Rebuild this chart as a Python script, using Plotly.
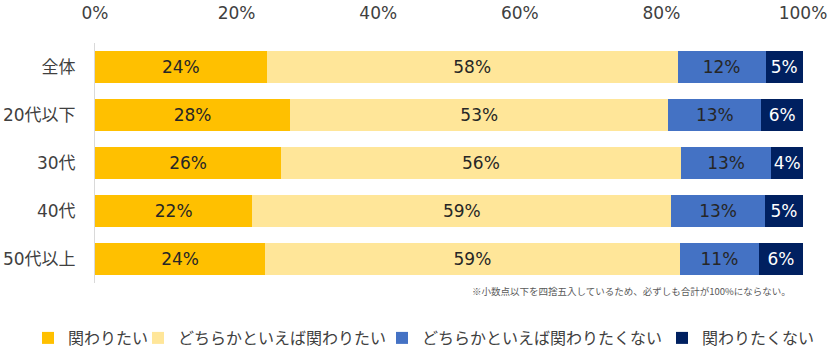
import plotly.graph_objects as go

categories = ["全体", "20代以下", "30代", "40代", "50代以上"]
series_names = ["関わりたい", "どちらかといえば関わりたい", "どちらかといえば関わりたくない", "関わりたくない"]
want = [24.26, 27.55, 26.28, 22.23, 24.02]
rather_want = [58.02, 53.45, 56.45, 59.16, 58.58]
rather_not = [12.43, 13.10, 12.82, 13.24, 11.19]
not_want = [5.29, 5.90, 4.45, 5.37, 6.21]
tick_vals = [0, 20, 40, 60, 80, 100]
tick_text = ["0%", "20%", "40%", "60%", "80%", "100%"]
note = "※小数点以下を四捨五入しているため、必ずしも合計が100%にならない。"

colors = ["#FFC000", "#FFE699", "#4472C4", "#002060"]
text_colors = ["#262626", "#262626", "#262626", "#FFFFFF"]
FONT = "DejaVu Sans, Noto Sans CJK JP, sans-serif"
LFONT = "Noto Sans CJK JP, sans-serif"

fig = go.Figure()
legend_ids = ["legend", "legend2", "legend3", "legend4"]
for i, (name, vals) in enumerate(zip(series_names, [want, rather_want, rather_not, not_want])):
    fig.add_trace(go.Bar(
        y=categories, x=vals, name=name, orientation="h",
        marker=dict(color=colors[i], line=dict(width=0)),
        text=[f"{round(v)}%" for v in vals],
        textposition="inside", insidetextanchor="middle",
        constraintext="none", textangle=0,
        textfont=dict(family=FONT, size=17, color=text_colors[i]),
        legend=legend_ids[i],
        hoverinfo="skip",
    ))

W, H = 833, 355
# legend symbol left positions (px)
legend_sym_x = [43, 153, 397, 677]
legends = {}
for lid, sx in zip(legend_ids, legend_sym_x):
    legends[lid] = dict(
        orientation="h", xref="container", yref="container",
        x=(sx - 15) / W, xanchor="left", y=1 - 338 / H, yanchor="middle",
        font=dict(family=LFONT, size=16, color="#404040"),
        bgcolor="rgba(0,0,0,0)", borderwidth=0, itemwidth=30,
        itemclick=False, itemdoubleclick=False,
    )

fig.update_layout(
    width=W, height=H,
    barmode="stack", bargap=0.33,
    margin=dict(l=95, r=30, t=43, b=72, autoexpand=False),
    plot_bgcolor="white", paper_bgcolor="white",
    font=dict(family=FONT, size=17, color="#404040"),
    showlegend=True,
    xaxis=dict(
        side="top", range=[0, 100], tickvals=tick_vals, ticktext=tick_text,
        showgrid=False, zeroline=False, showline=False, ticks="",
        tickfont=dict(family=FONT, size=17, color="#404040"),
        ticklabelstandoff=20, fixedrange=True, automargin=False,
    ),
    yaxis=dict(
        autorange="reversed", showgrid=False, zeroline=False,
        showline=True, linecolor="#D9D9D9", linewidth=1, ticks="",
        tickfont=dict(family=FONT, size=17, color="#404040"),
        ticklabelstandoff=15, fixedrange=True, automargin=False,
    ),
    annotations=[dict(
        text=note, xref="paper", yref="paper",
        x=(793 - 95) / 708, xanchor="right", y=(283 - 291) / 240, yanchor="middle",
        showarrow=False, font=dict(family=LFONT, size=9.5, color="#595959"),
    )],
    **legends,
)

fig.write_html(
    "out.html",
    config={"displayModeBar": False, "staticPlot": False},
    post_script="document.body.style.margin='0';document.body.style.overflow='hidden';",
)
